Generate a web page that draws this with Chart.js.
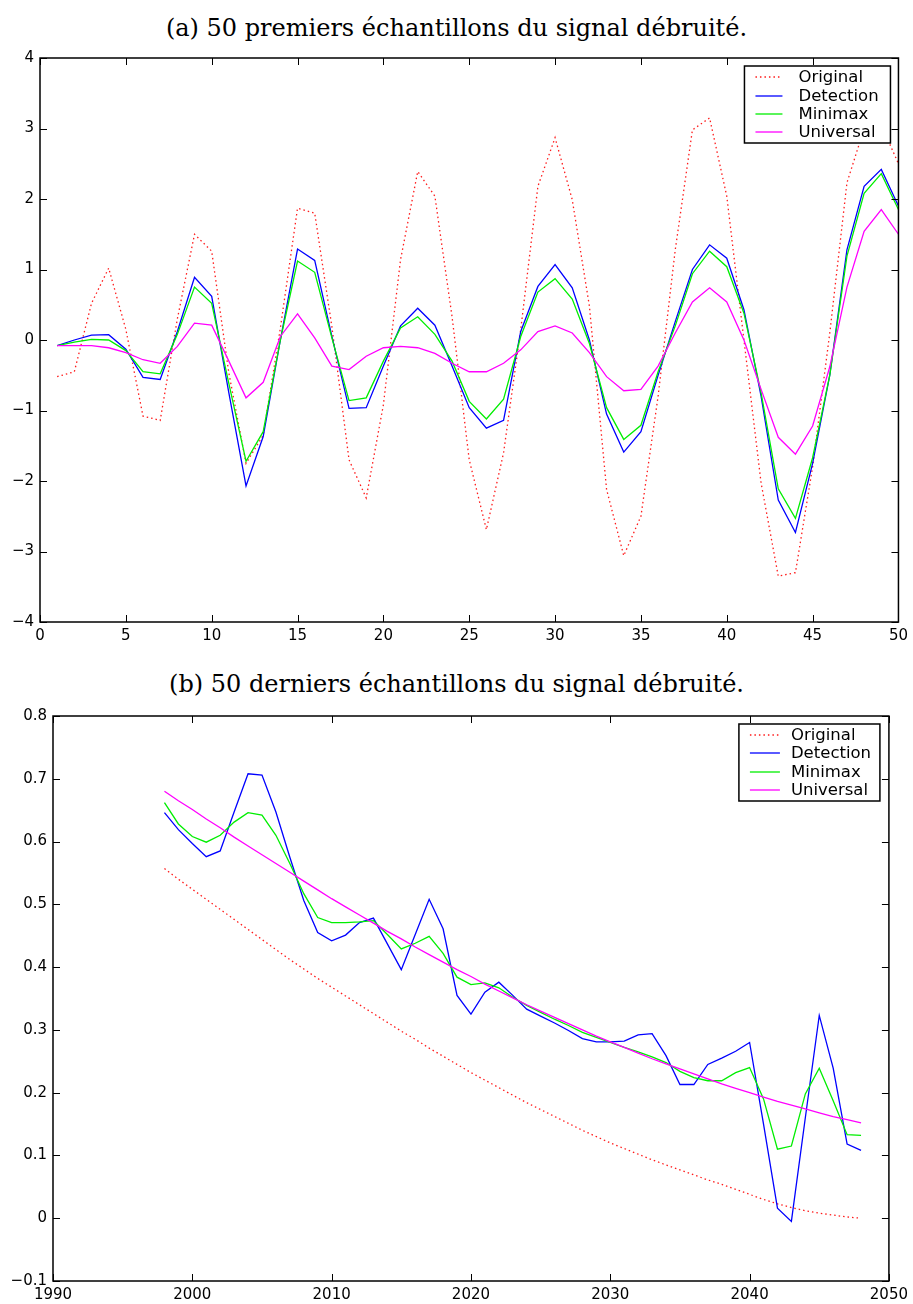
<!DOCTYPE html>
<html>
<head>
<meta charset="utf-8">
<script src="https://cdn.jsdelivr.net/npm/chart.js@4.4.0/dist/chart.umd.min.js"></script>
<style>
    body { margin: 0; background: #fff; }
    #page { position: relative; width: 913px; height: 1304px; overflow: hidden; background: #fff; }
    .title { position: absolute; left: 0; width: 913px; text-align: center; font-family: 'DejaVu Serif', serif; font-size: 24px; line-height: 28px; color: #000; white-space: nowrap; }
    canvas { position: absolute; left: 0; }
</style>
</head>
<body>
<div id="page">
    <div class="title" style="top:14px">(a) 50 premiers échantillons du signal débruité.</div>
    <canvas id="chartA" width="913" height="607" style="top:43px;width:913px;height:607px"></canvas>
    <div class="title" style="top:670px">(b) 50 derniers échantillons du signal débruité.</div>
    <canvas id="chartB" width="913" height="604" style="top:700px;width:913px;height:604px"></canvas>
</div>
<script>
// (a) first 50 samples
const samplesA = [1, 2, 3, 4, 5, 6, 7, 8, 9, 10, 11, 12, 13, 14, 15, 16, 17, 18, 19, 20,
    21, 22, 23, 24, 25, 26, 27, 28, 29, 30, 31, 32, 33, 34, 35, 36, 37, 38, 39, 40,
    41, 42, 43, 44, 45, 46, 47, 48, 49, 50];
const originalA = [-0.52, -0.45, 0.52, 1.02, 0.15, -1.08, -1.14, 0.3, 1.5, 1.26,
    -0.47, -1.75, -1.35, 0.17, 1.87, 1.8, 0.19, -1.7, -2.24, -0.92,
    1.14, 2.39, 2.04, 0.33, -1.7, -2.69, -1.6, 0.15, 2.18, 2.87,
    1.99, 0.48, -2.12, -3.06, -2.5, -0.8, 1.28, 2.98, 3.15, 2.04,
    0.0, -2.03, -3.35, -3.3, -1.8, 0.1, 2.23, 3.0, 3.05, 2.5];
const detectionA = [-0.08, 0.0, 0.07, 0.075, -0.13, -0.53, -0.56, 0.12, 0.89, 0.62,
    -0.75, -2.07, -1.37, 0.0, 1.29, 1.13, 0.05, -0.97, -0.96, -0.37,
    0.2, 0.45, 0.21, -0.37, -0.96, -1.25, -1.14, 0.12, 0.76, 1.07,
    0.74, 0.0, -1.05, -1.59, -1.3, -0.5, 0.26, 1.0, 1.35, 1.16,
    0.43, -0.8, -2.27, -2.73, -1.75, -0.5, 1.28, 2.18, 2.42, 1.9];
const minimaxA = [-0.08, -0.03, 0.01, 0.0, -0.15, -0.45, -0.48, 0.08, 0.75, 0.52,
    -0.62, -1.72, -1.3, 0.0, 1.12, 0.96, 0.03, -0.86, -0.82, -0.3,
    0.17, 0.33, 0.08, -0.3, -0.87, -1.12, -0.84, 0.05, 0.68, 0.87,
    0.58, -0.05, -0.96, -1.41, -1.21, -0.45, 0.2, 0.94, 1.26, 1.04,
    0.38, -0.75, -2.11, -2.53, -1.67, -0.5, 1.19, 2.08, 2.36, 1.85];
const universalA = [-0.08, -0.08, -0.08, -0.11, -0.18, -0.28, -0.33, -0.09, 0.24, 0.21,
    -0.3, -0.82, -0.6, 0.05, 0.37, 0.03, -0.37, -0.42, -0.23, -0.11,
    -0.09, -0.11, -0.19, -0.33, -0.45, -0.45, -0.33, -0.14, 0.12, 0.2,
    0.1, -0.18, -0.52, -0.72, -0.7, -0.37, 0.1, 0.54, 0.74, 0.54,
    0.0, -0.7, -1.38, -1.62, -1.22, -0.38, 0.75, 1.54, 1.85, 1.5];

// (b) last 50 samples
const samplesB = [1998, 1999, 2000, 2001, 2002, 2003, 2004, 2005, 2006, 2007,
    2008, 2009, 2010, 2011, 2012, 2013, 2014, 2015, 2016, 2017,
    2018, 2019, 2020, 2021, 2022, 2023, 2024, 2025, 2026, 2027,
    2028, 2029, 2030, 2031, 2032, 2033, 2034, 2035, 2036, 2037,
    2038, 2039, 2040, 2041, 2042, 2043, 2044, 2045, 2046, 2047, 2048];
const originalB = [0.557, 0.540, 0.524, 0.508, 0.492, 0.476, 0.460, 0.444, 0.428, 0.412,
    0.397, 0.382, 0.368, 0.354, 0.340, 0.326, 0.312, 0.298, 0.285, 0.271,
    0.258, 0.245, 0.232, 0.220, 0.208, 0.196, 0.184, 0.173, 0.162, 0.151,
    0.140, 0.130, 0.120, 0.111, 0.102, 0.093, 0.085, 0.077, 0.069, 0.061,
    0.054, 0.046, 0.038, 0.030, 0.023, 0.017, 0.012, 0.008, 0.005, 0.002, 0.0];
const detectionB = [0.646, 0.619, 0.597, 0.576, 0.585, 0.647, 0.708, 0.706, 0.647, 0.575,
    0.506, 0.455, 0.442, 0.451, 0.471, 0.478, 0.437, 0.396, 0.452, 0.508,
    0.461, 0.355, 0.325, 0.360, 0.376, 0.355, 0.333, 0.322, 0.311, 0.299,
    0.286, 0.281, 0.281, 0.282, 0.292, 0.294, 0.259, 0.213, 0.213, 0.245,
    0.255, 0.266, 0.280, 0.150, 0.016, -0.005, 0.160, 0.323, 0.239, 0.118, 0.108];
const minimaxB = [0.662, 0.628, 0.608, 0.599, 0.610, 0.631, 0.646, 0.642, 0.610, 0.565,
    0.517, 0.479, 0.471, 0.471, 0.472, 0.474, 0.452, 0.429, 0.438, 0.449,
    0.422, 0.384, 0.372, 0.375, 0.367, 0.352, 0.339, 0.328, 0.317, 0.307,
    0.296, 0.288, 0.280, 0.272, 0.265, 0.257, 0.248, 0.234, 0.224, 0.219,
    0.219, 0.232, 0.240, 0.190, 0.110, 0.115, 0.198, 0.239, 0.187, 0.133, 0.132];
const universalB = [0.680, 0.665, 0.651, 0.636, 0.622, 0.607, 0.593, 0.579, 0.565, 0.551,
    0.537, 0.523, 0.509, 0.496, 0.483, 0.470, 0.457, 0.445, 0.432, 0.420,
    0.408, 0.396, 0.385, 0.373, 0.362, 0.351, 0.340, 0.330, 0.320, 0.310,
    0.300, 0.290, 0.281, 0.272, 0.263, 0.254, 0.246, 0.238, 0.230, 0.222,
    0.214, 0.207, 0.200, 0.193, 0.186, 0.180, 0.174, 0.168, 0.162, 0.157, 0.152];

const seriesNames = ['Original', 'Detection', 'Minimax', 'Universal'];
const seriesColors = ['#ff1a1a', '#0000ff', '#00ee00', '#ff00ff'];

// box around the plot with MATLAB-style inward ticks on all sides
const matlabFrame = {
    id: 'matlabFrame',
    afterDatasetsDraw(chart) {
        const { ctx, chartArea: a, scales } = chart;
        const len = 7;
        ctx.save();
        ctx.strokeStyle = '#000';
        ctx.lineWidth = 1;
        ctx.beginPath();
        scales.x.ticks.forEach(t => {
            const px = Math.round(scales.x.getPixelForValue(t.value)) + 0.5;
            ctx.moveTo(px, a.bottom); ctx.lineTo(px, a.bottom - len);
            ctx.moveTo(px, a.top); ctx.lineTo(px, a.top + len);
        });
        scales.y.ticks.forEach(t => {
            const py = Math.round(scales.y.getPixelForValue(t.value)) + 0.5;
            ctx.moveTo(a.left, py); ctx.lineTo(a.left + len, py);
            ctx.moveTo(a.right, py); ctx.lineTo(a.right - len, py);
        });
        ctx.stroke();
        ctx.lineWidth = 1.5;
        ctx.strokeRect(a.left, a.top, a.right - a.left, a.bottom - a.top);
        ctx.restore();
    }
};

// boxed legend inside the top-right corner
const boxLegend = {
    id: 'boxLegend',
    afterDraw(chart, args, opts) {
        const { ctx, chartArea: a } = chart;
        const right = a.right - opts.insetX;
        const top = a.top + opts.insetY;
        const left = right - opts.width;
        ctx.save();
        ctx.fillStyle = '#fff';
        ctx.fillRect(left, top, opts.width, opts.height);
        ctx.strokeStyle = '#000';
        ctx.lineWidth = 1.5;
        ctx.strokeRect(left, top, opts.width, opts.height);
        ctx.font = opts.font;
        ctx.textBaseline = 'middle';
        chart.data.datasets.forEach((ds, i) => {
            const yy = Math.round(top + opts.firstRow + i * opts.rowGap);
            ctx.strokeStyle = ds.borderColor;
            ctx.lineWidth = 1.3;
            ctx.setLineDash(ds.borderDash || []);
            ctx.beginPath();
            ctx.moveTo(left + opts.lineX0, yy);
            ctx.lineTo(left + opts.lineX1, yy);
            ctx.stroke();
            ctx.setLineDash([]);
            ctx.fillStyle = '#000';
            ctx.fillText(ds.label, left + opts.textX, yy + 1);
        });
        ctx.restore();
    }
};

function makeDatasets(xs, cols) {
    return cols.map((vals, i) => ({
        label: seriesNames[i],
        data: xs.map((x, j) => ({ x: x, y: vals[j] })),
        borderColor: seriesColors[i],
        borderWidth: 1.3,
        borderDash: i === 0 ? [1.5, 3] : [],
        pointRadius: 0,
        tension: 0,
        fill: false,
        order: 3 - i
    }));
}

const tickFont = { family: "'DejaVu Sans', sans-serif", size: 15 };
const fmt = v => String(Math.round(v * 10) / 10).replace('-', '\u2212');

function makeConfig(datasets, c) {
    return {
        type: 'line',
        data: { datasets: datasets },
        plugins: [matlabFrame, boxLegend],
        options: {
            responsive: false,
            animation: false,
            layout: { padding: c.padding },
            plugins: {
                legend: { display: false },
                tooltip: { enabled: false },
                boxLegend: c.legend
            },
            scales: {
                x: {
                    type: 'linear', min: c.xMin, max: c.xMax,
                    grid: { display: false, drawTicks: false },
                    border: { display: false },
                    ticks: { stepSize: c.xStep, color: '#000', font: tickFont, padding: 5, maxRotation: 0, autoSkip: false, callback: v => String(v) },
                    afterFit: s => { s.height = c.xHeight; }
                },
                y: {
                    type: 'linear', min: c.yMin, max: c.yMax,
                    grid: { display: false, drawTicks: false },
                    border: { display: false },
                    ticks: { stepSize: c.yStep, color: '#000', font: tickFont, padding: 6, callback: fmt },
                    afterFit: s => { s.width = c.yWidth; }
                }
            }
        }
    };
}

new Chart(document.getElementById('chartA'), makeConfig(
    makeDatasets(samplesA, [originalA, detectionA, minimaxA, universalA]),
    {
        xMin: 0, xMax: 50, xStep: 5, yMin: -4, yMax: 4, yStep: 1,
        padding: { top: 15, right: 13, left: 0, bottom: 0 },
        xHeight: 28, yWidth: 40,
        legend: { width: 146, height: 77, insetX: 8, insetY: 8, firstRow: 11.3, rowGap: 18.3,
                  lineX0: 11, lineX1: 38, textX: 54, font: "16.5px 'DejaVu Sans', sans-serif" }
    }
));

new Chart(document.getElementById('chartB'), makeConfig(
    makeDatasets(samplesB, [originalB, detectionB, minimaxB, universalB]),
    {
        xMin: 1990, xMax: 2050, xStep: 10, yMin: -0.1, yMax: 0.8, yStep: 0.1,
        padding: { top: 16, right: 23, left: 0, bottom: 0 },
        xHeight: 23, yWidth: 53,
        legend: { width: 141, height: 77, insetX: 9, insetY: 8, firstRow: 11, rowGap: 18.3,
                  lineX0: 11, lineX1: 41, textX: 52, font: "16.5px 'DejaVu Sans', sans-serif" }
    }
));
</script>
</body>
</html>
